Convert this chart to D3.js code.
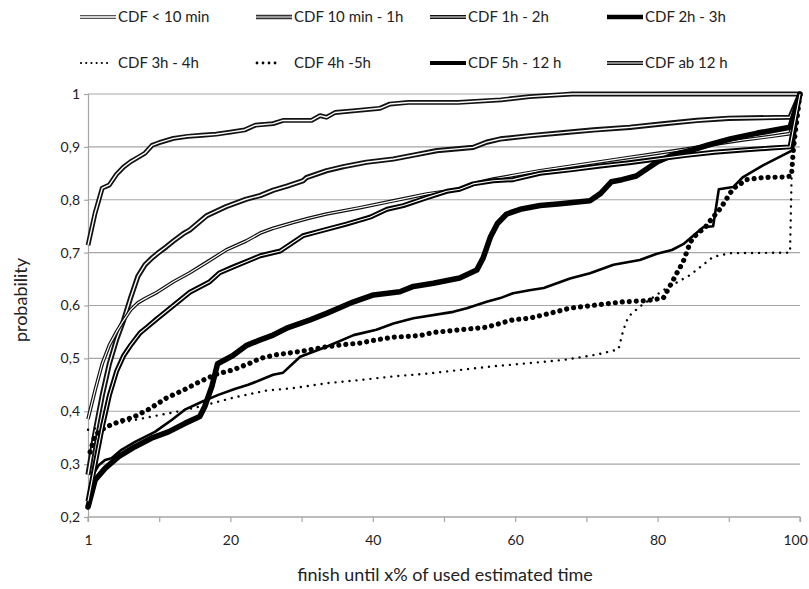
<!DOCTYPE html>
<html><head><meta charset="utf-8">
<script src="https://cdn.jsdelivr.net/npm/d3@7"></script>
<style>body{margin:0;background:#fff} svg{display:block} text{font-family:Lato,"Open Sans",sans-serif;fill:#222}</style>
</head><body><svg id="c" width="809" height="589"></svg>
<script>
const seriesNames = ["CDF < 10 min","CDF 10 min - 1h","CDF 1h - 2h","CDF 2h - 3h","CDF 3h - 4h","CDF 4h -5h","CDF 5h - 12 h","CDF ab 12 h"];

const cdfLt10min = [[0,0.714],[1,0.775],[2,0.822],[3,0.828],[4,0.848],[5,0.862],[6,0.872],[7,0.88],[8,0.888],[9,0.903],[10,0.908],[12,0.916],[14,0.92],[16,0.922],[18,0.924],[20,0.928],[22,0.932],[23.5,0.941],[26,0.944],[27.4,0.95],[31.4,0.95],[32.6,0.959],[33.5,0.956],[34.7,0.965],[37.2,0.968],[41,0.973],[42.4,0.981],[45,0.984],[52,0.984],[58,0.989],[62,0.995],[66.7,0.999],[68,1],[100,1]];
const cdf10min1h = [[0,0.28],[1,0.36],[2,0.43],[3,0.49],[4,0.535],[5,0.572],[6,0.615],[7,0.655],[8,0.677],[9,0.69],[10,0.701],[11,0.711],[12,0.722],[13.4,0.736],[14.3,0.743],[16.7,0.77],[19.4,0.787],[22.2,0.801],[24.2,0.808],[26,0.818],[28,0.826],[30.2,0.836],[30.7,0.842],[33.5,0.855],[36,0.863],[39.1,0.871],[42.9,0.877],[46,0.885],[49,0.893],[54.1,0.899],[56,0.909],[57.9,0.915],[62,0.921],[66.8,0.927],[71,0.932],[76.1,0.937],[81,0.944],[85.5,0.95],[90,0.954],[98.6,0.956],[100,1]];
const cdf1h2h = [[0,0.385],[1,0.44],[2,0.49],[3,0.525],[4,0.55],[5,0.572],[6,0.592],[7,0.605],[8,0.613],[9.7,0.625],[12,0.645],[14.3,0.662],[16.7,0.682],[19.4,0.705],[22.2,0.722],[24.2,0.737],[26,0.746],[28.8,0.757],[31,0.765],[33.5,0.773],[38.2,0.785],[42.9,0.798],[47.6,0.811],[52.2,0.82],[54.6,0.832],[56.9,0.839],[59.7,0.846],[63.5,0.855],[68,0.864],[72,0.872],[76,0.88],[80,0.888],[84,0.896],[88,0.905],[92,0.913],[96,0.92],[98.6,0.925],[100,1]];
const cdf2h3h = [[0,0.219],[1,0.27],[2.4,0.292],[4.3,0.314],[6.6,0.333],[8.9,0.349],[11.3,0.361],[13.6,0.377],[15.7,0.39],[16.4,0.409],[17.4,0.447],[18.2,0.49],[20.3,0.505],[22.2,0.524],[24,0.534],[26,0.544],[27.9,0.557],[31.2,0.573],[33.5,0.585],[37.3,0.607],[40.1,0.62],[43.8,0.626],[45.7,0.636],[48.5,0.642],[52.2,0.652],[54.6,0.667],[55.5,0.69],[56.5,0.729],[57.5,0.755],[58.8,0.773],[60.7,0.782],[63.5,0.789],[66,0.792],[70.5,0.798],[72,0.812],[73.5,0.834],[75,0.838],[77,0.845],[80,0.872],[82,0.884],[84.6,0.893],[87,0.903],[90.2,0.915],[94,0.926],[98.6,0.937],[100,1]];
const cdf3h4h = [[0,0.365],[2.4,0.371],[5.2,0.38],[9,0.39],[12.8,0.4],[16,0.41],[20.5,0.426],[25,0.439],[29,0.444],[33.5,0.453],[38.2,0.459],[42.9,0.466],[47.6,0.471],[52.2,0.478],[56.9,0.485],[62,0.491],[66.8,0.497],[71.4,0.507],[74.5,0.517],[75.2,0.554],[75.9,0.579],[77.5,0.598],[80.8,0.629],[84.6,0.658],[87.8,0.692],[90.2,0.699],[98.6,0.7],[98.9,0.9],[100,1]];
const cdf4h5h = [[0.3,0.323],[1,0.355],[2,0.366],[3.3,0.375],[5,0.383],[6.4,0.389],[8.7,0.405],[11,0.425],[13.4,0.44],[15.7,0.456],[18,0.47],[20.3,0.478],[22.6,0.49],[24.2,0.5],[26.5,0.507],[29.8,0.513],[33.5,0.522],[35.9,0.526],[38.2,0.529],[40.5,0.535],[42.9,0.54],[46.6,0.543],[48.5,0.549],[52.2,0.554],[56,0.559],[59.7,0.573],[62,0.576],[64.8,0.585],[67.7,0.595],[71.4,0.601],[75.2,0.607],[78.4,0.609],[80.8,0.614],[81.7,0.636],[82.7,0.661],[83.6,0.683],[84.6,0.72],[85.5,0.735],[86.7,0.748],[87.6,0.764],[88.8,0.783],[89.7,0.802],[90.6,0.821],[92.5,0.838],[94.8,0.842],[97.7,0.843],[98.8,0.845],[99.1,0.9],[100,1]];
const cdf5h12h = [[0,0.232],[0.8,0.282],[1.5,0.298],[2.4,0.308],[3.3,0.311],[4.7,0.327],[6.6,0.342],[9.4,0.361],[11.8,0.384],[13.6,0.403],[16,0.418],[18.3,0.431],[20.6,0.442],[22.5,0.45],[24.2,0.459],[26,0.469],[27.4,0.473],[29.8,0.503],[33.5,0.522],[37.3,0.544],[40.5,0.554],[42.9,0.566],[45.7,0.576],[51.3,0.588],[53.2,0.595],[56,0.607],[57.9,0.614],[59.7,0.623],[62,0.629],[64,0.633],[67.7,0.651],[70.5,0.661],[73.8,0.677],[77.5,0.686],[79.9,0.698],[82,0.705],[83.6,0.716],[86.4,0.748],[87.8,0.75],[88.6,0.82],[90.6,0.824],[92,0.843],[94.8,0.865],[97,0.88],[99,0.894],[100,1]];
const cdfAb12h = [[0,0.23],[1,0.3],[2,0.37],[3,0.43],[4,0.475],[5,0.505],[6,0.525],[7.3,0.548],[8.3,0.559],[9.7,0.575],[12,0.6],[14.3,0.625],[17.1,0.645],[18.5,0.662],[20.4,0.673],[23.1,0.688],[24.2,0.694],[27,0.703],[30.2,0.732],[33.5,0.744],[36.3,0.754],[39.6,0.767],[42,0.782],[44.3,0.789],[47.6,0.804],[50.4,0.816],[52.2,0.82],[54.1,0.83],[56.9,0.836],[59.7,0.838],[63.5,0.85],[68,0.857],[72,0.864],[76,0.87],[80,0.877],[84,0.884],[88,0.89],[92,0.894],[96,0.898],[98.6,0.9],[100,1]];

const seriesData = [cdfLt10min, cdf10min1h, cdf1h2h, cdf2h3h, cdf3h4h, cdf4h5h, cdf5h12h, cdfAb12h];

const yTicks = [0.2,0.3,0.4,0.5,0.6,0.7,0.8,0.9,1];
const yTickLabels = ["0,2","0,3","0,4","0,5","0,6","0,7","0,8","0,9","1"];
const xTicks = [0,10,20,30,40,50,60,70,80,90,100];
const xTickLabels = ["1","","20","","40","","60","","80","","100"];
const xTitle = "finish until x% of used estimated  time";
const yTitle = "probability";

// styles (not data)
const styles = [
  {kind:"double", w:4.8, iw:1.4, c:"#111", lc:"#555", lw:4, liw:1.3},
  {kind:"double", w:5.2, iw:1.4, c:"#111", lc:"#333", lw:4.6, liw:1.2},
  {kind:"double", w:3.6, iw:1.2, c:"#111", lc:"#111", lw:4, liw:1.2},
  {kind:"solid", w:5.6, c:"#000", lc:"#000", lw:4.5},
  {kind:"dot", w:2.4, gap:7, c:"#000", lc:"#000", lw:2.2, lgap:5.2},
  {kind:"dot", w:5.2, gap:7, c:"#000", lc:"#000", lw:2.8, lgap:6},
  {kind:"solid", w:2.6, c:"#000", lc:"#000", lw:4.2},
  {kind:"double", w:5, iw:1.1, c:"#000", lc:"#111", lw:4, liw:1.1}
];

const svg = d3.select("#c");
const x = d3.scaleLinear().domain([0,100]).range([88,800]);
const y = d3.scaleLinear().domain([0.2,1]).range([517,94]);
const grid = "#a6a6a6";

// gridlines
svg.append("g").selectAll("line").data(yTicks).join("line")
  .attr("x1", x(0)).attr("x2", x(100))
  .attr("y1", d=>y(d)).attr("y2", d=>y(d))
  .attr("stroke", grid).attr("stroke-width",1.2);

// y axis
const yAxis = d3.axisLeft(y).tickValues(yTicks).tickFormat((d,i)=>yTickLabels[i]).tickSize(4).tickPadding(4);
const gy = svg.append("g").attr("transform",`translate(${x(0)},0)`).call(yAxis);
gy.select(".domain").attr("stroke",grid).attr("stroke-width",1.2);
gy.selectAll(".tick line").attr("stroke",grid).attr("stroke-width",1.2);
gy.selectAll(".tick text").style("font-family","Lato, sans-serif").style("font-size","14px").attr("fill","#222");

// x axis
const xAxis = d3.axisBottom(x).tickValues(xTicks).tickFormat((d,i)=>xTickLabels[i]).tickSize(5).tickPadding(13);
const gx = svg.append("g").attr("transform",`translate(0,${y(0.2)})`).call(xAxis);
gx.select(".domain").attr("stroke",grid).attr("stroke-width",1.2).attr("d",`M${x(0)},5V0H${x(100)}V5`);
gx.selectAll(".tick line").attr("stroke",grid).attr("stroke-width",1.2);
gx.selectAll(".tick text").style("font-family","Lato, sans-serif").style("font-size","14px").attr("fill","#222")
  .attr("dx",(d)=> d===100 ? "-0.35em" : null);

// series
const line = d3.line().x(d=>x(d[0])).y(d=>y(d[1])).curve(d3.curveLinear);
const gs = svg.append("g");
seriesData.forEach((data,i)=>{
  const s = styles[i];
  if (s.kind==="double") {
    gs.append("path").attr("d",line(data)).attr("fill","none").attr("stroke",s.c).attr("stroke-width",s.w).attr("stroke-linejoin","round");
    gs.append("path").attr("d",line(data)).attr("fill","none").attr("stroke","#fff").attr("stroke-width",s.iw).attr("stroke-linejoin","round");
  } else if (s.kind==="solid") {
    gs.append("path").attr("d",line(data)).attr("fill","none").attr("stroke",s.c).attr("stroke-width",s.w).attr("stroke-linejoin","round").attr("stroke-linecap","round");
  } else {
    gs.append("path").attr("d",line(data)).attr("fill","none").attr("stroke",s.c).attr("stroke-width",s.w).attr("stroke-linecap","round").attr("stroke-dasharray",`0.01 ${s.gap}`);
  }
});

// legend
const legX = [80,256,430,607];
const legY = [17,63];
const lg = svg.append("g");
seriesNames.forEach((name,i)=>{
  const s = styles[i];
  const lx = legX[i%4], ly = legY[Math.floor(i/4)];
  let x2 = lx+36;
  if (s.kind==="dot") x2 = lx + (i===4 ? 28 : 25);
  const seg = `M${lx},${ly}H${x2}`;
  if (s.kind==="double") {
    lg.append("path").attr("d",seg).attr("stroke",s.lc).attr("stroke-width",s.lw);
    lg.append("path").attr("d",seg).attr("stroke","#fff").attr("stroke-width",s.liw);
  } else if (s.kind==="solid") {
    lg.append("path").attr("d",seg).attr("stroke",s.lc).attr("stroke-width",s.lw);
  } else {
    lg.append("path").attr("d",`M${lx+1},${ly}H${x2}`).attr("stroke",s.lc).attr("stroke-width",s.lw).attr("stroke-linecap","round").attr("stroke-dasharray",`0.01 ${s.lgap}`);
  }
  lg.append("text").attr("x", legX[i%4]+38).attr("y", ly).attr("dy","0.36em")
    .style("font-size","15px").text(name);
});

// titles
svg.append("text").attr("x",445).attr("y",575).attr("dy","0.36em").attr("text-anchor","middle")
  .style("font-size","18px").text(xTitle);
svg.append("text").attr("transform","translate(21,300) rotate(-90)").attr("dy","0.36em").attr("text-anchor","middle")
  .style("font-size","18px").text(yTitle);
</script></body></html>
